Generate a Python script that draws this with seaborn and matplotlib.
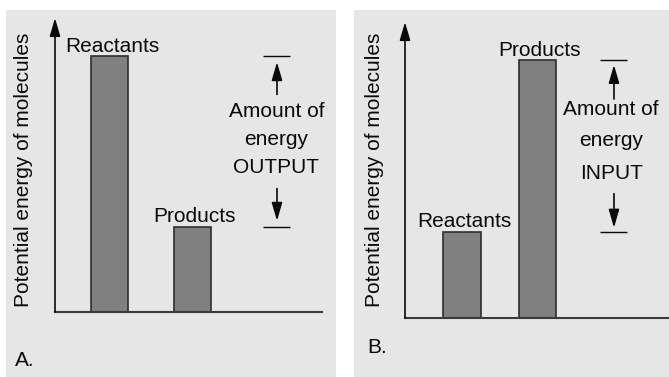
import matplotlib
matplotlib.use("Agg")
import matplotlib.pyplot as plt
from matplotlib.patches import Rectangle
import seaborn as sns

# Energy levels (arbitrary units, axis runs 0-100)
categories = ["Reactants", "Products"]
exothermic_energy = [87, 29]   # A: energy released
endothermic_energy = [29, 87]  # B: energy absorbed
note_output = ["Amount of", "energy", "OUTPUT"]
note_input = ["Amount of", "energy", "INPUT"]
panel_tags = ["A.", "B."]
y_title = "Potential energy of molecules"

sns.set_theme(style="white")
plt.rcParams["font.family"] = ["Liberation Sans", "DejaVu Sans"]

W, H = 669, 377
fig = plt.figure(figsize=(W / 100, H / 100), dpi=100)
fig.patch.set_facecolor("white")

PANEL_BG = "#e6e6e6"
BAR_FILL = "#808080"
BAR_EDGE = "#2e2e2e"
INK = "#0a0a0a"
FS = 15


def fx(px):
    return px / W


def fy(py):
    return 1 - py / H


# panel layouts in pixels
panels = [
    dict(bg=(6, 10, 336, 377), ax=(55, 18, 322, 312), x0=109.5, step=83.0,
         width=0.446, values=exothermic_energy, note=note_output,
         note_base=[66.4, 56.8, 47.4], up=(74, 85), down=(42, 31),
         brk=(1.849, 2.175), arrow_x=2.018, note_x=2.012,
         ylabel=(24, 170), tag=(15, 366)),
    dict(bg=(354, 10, 669, 377), ax=(405, 22, 669, 318), x0=462.0, step=75.5,
         width=0.503, values=endothermic_energy, note=note_input,
         note_base=[68.6, 58.0, 47.0], up=(74, 85.5), down=(42, 30.5),
         brk=(1.828, 2.185), arrow_x=2.013, note_x=1.975,
         ylabel=(374, 170), tag=(367, 353)),
]

arrow_kw = dict(arrowstyle="-|>,head_length=1.1,head_width=0.32",
                mutation_scale=10, lw=1.2, color=INK, shrinkA=0, shrinkB=0)

for i, p in enumerate(panels):
    l, t, r, b = p["bg"]
    fig.patches.append(Rectangle((fx(l), fy(b)), fx(r - l), (b - t) / H,
                                 transform=fig.transFigure, facecolor=PANEL_BG,
                                 edgecolor="none", zorder=-5))

    al, at, ar, ab = p["ax"]
    ax = fig.add_axes([fx(al), fy(ab), fx(ar - al), (ab - at) / H])
    ax.set_facecolor("none")
    ax.patch.set_alpha(0)

    sns.barplot(x=categories, y=p["values"], ax=ax, color=BAR_FILL,
                saturation=1, edgecolor=BAR_EDGE, linewidth=1.2,
                width=p["width"])

    xl = -(p["x0"] - al) / p["step"]
    xr = xl + (ar - al) / p["step"]
    ax.set_xlim(xl, xr)
    ax.set_ylim(0, 100)
    ax.set_xticks([])
    ax.set_yticks([])
    ax.set_xlabel("")
    ax.set_ylabel("")
    for s in ["top", "right", "left"]:
        ax.spines[s].set_visible(False)
    ax.spines["bottom"].set_color("#3a3a3a")
    ax.spines["bottom"].set_linewidth(1.5)

    # vertical axis with arrowhead
    ax.annotate("", xy=(0, 1), xytext=(0, 0), xycoords="axes fraction",
                textcoords="axes fraction", arrowprops=arrow_kw,
                annotation_clip=False)

    # bar labels
    for j, (name, v) in enumerate(zip(categories, p["values"])):
        ax.text(j + 0.03, v + 1.6, name, ha="center", va="baseline",
                fontsize=FS, color=INK)

    # energy difference bracket
    hi, lo = max(p["values"]), min(p["values"])
    ax.hlines([hi, lo], p["brk"][0], p["brk"][1], color=INK, lw=1.0)
    ax.annotate("", xy=(p["arrow_x"], p["up"][1]),
                xytext=(p["arrow_x"], p["up"][0]), arrowprops=arrow_kw)
    ax.annotate("", xy=(p["arrow_x"], p["down"][1]),
                xytext=(p["arrow_x"], p["down"][0]), arrowprops=arrow_kw)
    for line, yb in zip(p["note"], p["note_base"]):
        ax.text(p["note_x"], yb, line, ha="center", va="baseline",
                fontsize=FS, color=INK)

    # axis title and panel tag
    fig.text(fx(p["ylabel"][0]), fy(p["ylabel"][1]), y_title, rotation=90,
             ha="center", va="center", fontsize=FS, color=INK)
    fig.text(fx(p["tag"][0]), fy(p["tag"][1]), panel_tags[i], ha="left",
             va="baseline", fontsize=FS, color=INK)

fig.savefig("out.png", dpi=100, facecolor="white")
